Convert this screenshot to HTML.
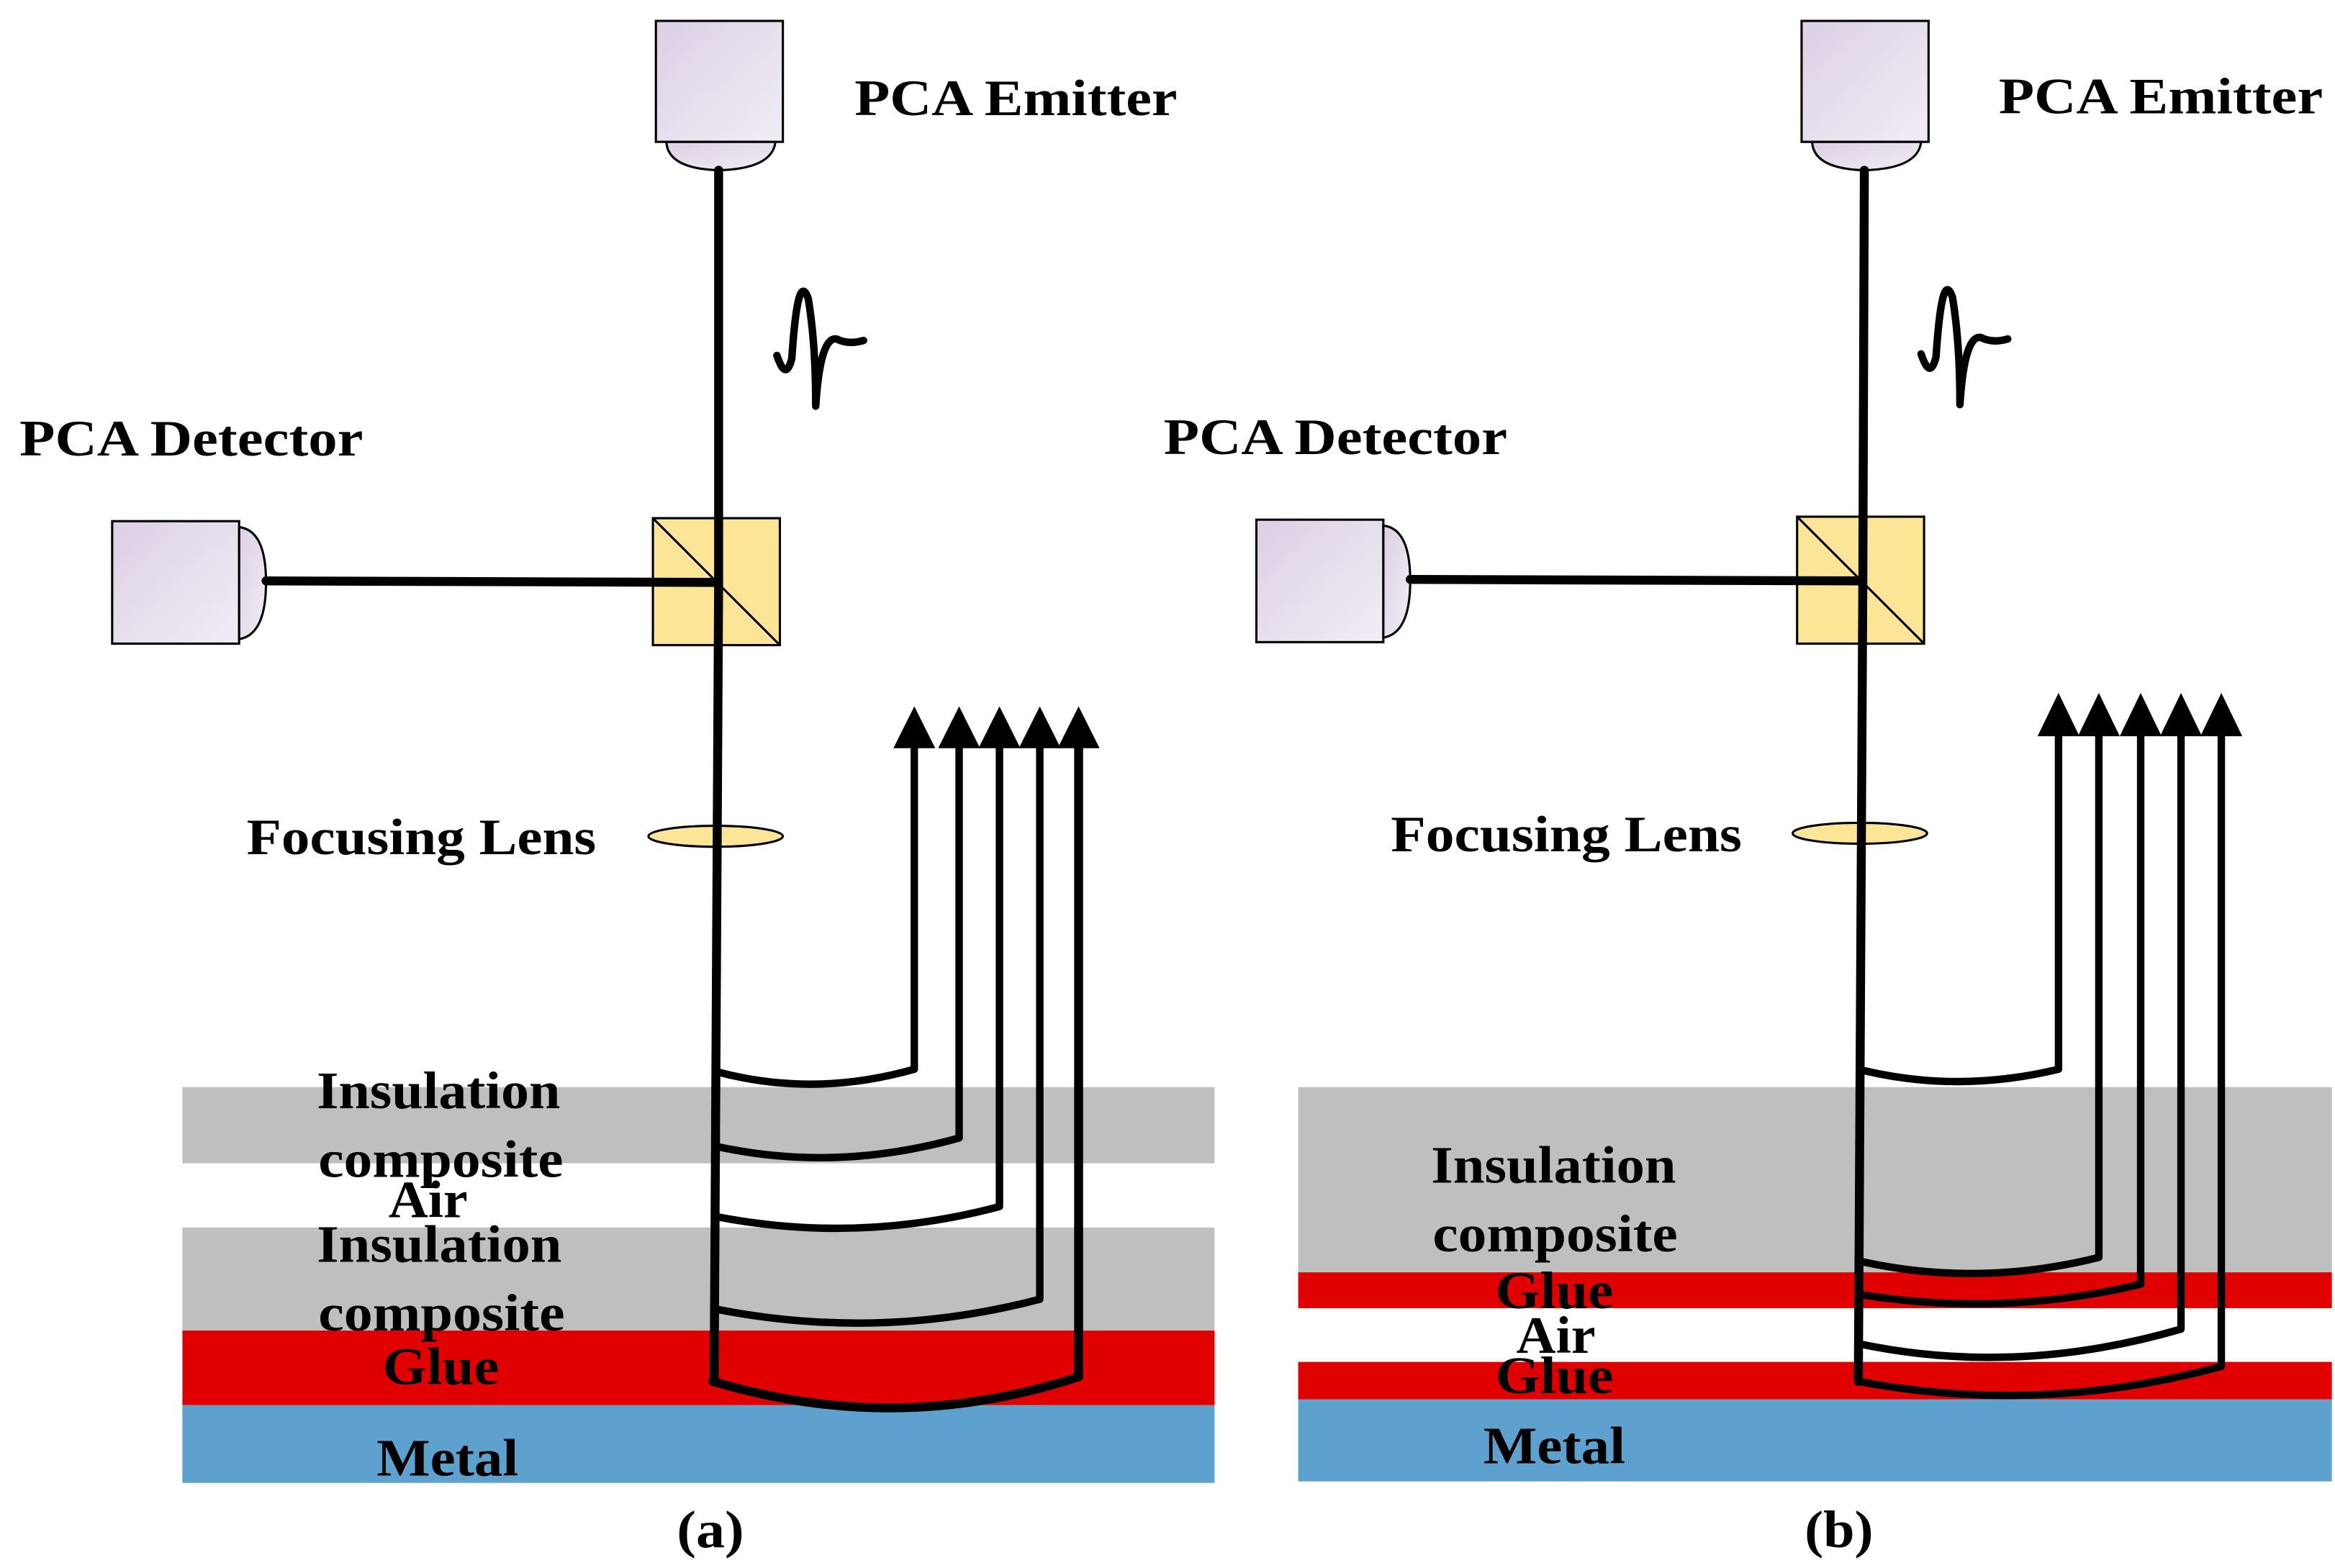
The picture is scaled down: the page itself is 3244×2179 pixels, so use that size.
<!DOCTYPE html>
<html><head><style>html,body{margin:0;padding:0;background:#fff}svg{display:block}</style></head>
<body>
<svg width="3244" height="2179" viewBox="0 0 1563 1050" xmlns="http://www.w3.org/2000/svg" font-family="Liberation Serif, serif" font-weight="bold">
<defs>
<linearGradient id="pg" x1="0" y1="0" x2="1" y2="1"><stop offset="0" stop-color="#dcd0e4"/><stop offset="1" stop-color="#f1edf5"/></linearGradient>
</defs>

<rect x="122" y="728" width="691" height="51" fill="#bfbfbf"/>
<rect x="122" y="822" width="691" height="69" fill="#bfbfbf"/>
<rect x="122" y="891" width="691" height="50" fill="#e00000"/>
<rect x="122" y="941" width="691" height="52" fill="#5ea1cf"/>

<rect x="869" y="728" width="692" height="124" fill="#bfbfbf"/>
<rect x="869" y="852" width="692" height="24" fill="#e00000"/>
<rect x="869" y="912" width="692" height="25" fill="#e00000"/>
<rect x="869" y="937" width="692" height="55" fill="#5ea1cf"/>

<g font-size="34" fill="#000">
<text x="572" y="77" textLength="216" lengthAdjust="spacingAndGlyphs">PCA Emitter</text>
<text x="1338" y="76" textLength="217" lengthAdjust="spacingAndGlyphs">PCA Emitter</text>
<text x="13" y="305" textLength="230" lengthAdjust="spacingAndGlyphs">PCA Detector</text>
<text x="779" y="304" textLength="230" lengthAdjust="spacingAndGlyphs">PCA Detector</text>
<text x="165" y="572" textLength="234" lengthAdjust="spacingAndGlyphs">Focusing Lens</text>
<text x="931" y="570" textLength="235" lengthAdjust="spacingAndGlyphs">Focusing Lens</text>
</g>
<g font-size="35" fill="#000">
<text x="212" y="742" textLength="163" lengthAdjust="spacingAndGlyphs">Insulation</text>
<text x="213" y="788" textLength="164" lengthAdjust="spacingAndGlyphs">composite</text>
<text x="260" y="815" textLength="53" lengthAdjust="spacingAndGlyphs">Air</text>
<text x="212" y="845" textLength="164" lengthAdjust="spacingAndGlyphs">Insulation</text>
<text x="213" y="891" textLength="165" lengthAdjust="spacingAndGlyphs">composite</text>
<text x="256" y="927" textLength="78" lengthAdjust="spacingAndGlyphs">Glue</text>
<text x="252" y="988" textLength="95" lengthAdjust="spacingAndGlyphs">Metal</text>
<text x="453" y="1036" textLength="45" lengthAdjust="spacingAndGlyphs">(a)</text>
<text x="958" y="792" textLength="164" lengthAdjust="spacingAndGlyphs">Insulation</text>
<text x="959" y="838" textLength="164" lengthAdjust="spacingAndGlyphs">composite</text>
<text x="1001" y="876" textLength="79" lengthAdjust="spacingAndGlyphs">Glue</text>
<text x="1015" y="906" textLength="53" lengthAdjust="spacingAndGlyphs">Air</text>
<text x="1001" y="933" textLength="79" lengthAdjust="spacingAndGlyphs">Glue</text>
<text x="993" y="980" textLength="95" lengthAdjust="spacingAndGlyphs">Metal</text>
<text x="1208" y="1036" textLength="46" lengthAdjust="spacingAndGlyphs">(b)</text>
</g>

<g stroke="#000" stroke-width="1.5">
<rect x="439" y="14" width="85" height="81" fill="url(#pg)"/>
<path d="M446 95 Q447 113 481 114 Q517 113 519 95 Z" fill="url(#pg)"/>
<rect x="75" y="349" width="85" height="82" fill="url(#pg)"/>
<path d="M160 353 Q178 355 178 390 Q178 425 160 428 Z" fill="url(#pg)"/>
<rect x="437" y="347" width="85" height="85" fill="#fde598"/>
<line x1="437" y1="347" x2="522" y2="432"/>
<ellipse cx="479" cy="560" rx="45" ry="7" fill="#fde598"/>
</g>
<g stroke="#000" stroke-width="1.5">
<rect x="1206" y="14" width="85" height="81" fill="url(#pg)"/>
<path d="M1213 95 Q1214 113 1248 114 Q1284 113 1286 95 Z" fill="url(#pg)"/>
<rect x="841" y="348" width="85" height="82" fill="url(#pg)"/>
<path d="M926 352 Q944 354 944 389 Q944 424 926 427 Z" fill="url(#pg)"/>
<rect x="1203" y="346" width="85" height="85" fill="#fde598"/>
<line x1="1203" y1="346" x2="1288" y2="431"/>
<ellipse cx="1245" cy="558" rx="45" ry="7" fill="#fde598"/>
</g>

<g stroke="#000" fill="none" stroke-linejoin="round" stroke-linecap="round">
<path d="M481 114 L481 390 L478 925" stroke-width="6"/>
<path d="M178 389 L481 390" stroke-width="6"/>
<path d="M520 238 Q526 256 530 240 Q534 180 541 200 Q546 230 546 272 Q549 225 560 227 Q568 231 578 228" stroke-width="5"/>
<path d="M481 718 Q545 735 612 716 L612 500" stroke-width="5"/>
<path d="M481 768 Q560 785 642 762 L642 500" stroke-width="5"/>
<path d="M481 815 Q575 833 669 808 L669 500" stroke-width="5"/>
<path d="M481 877 Q590 898 696 870 L696 500" stroke-width="5"/>
<path d="M477 925 Q600 962 722 922 L722 500" stroke-width="6"/>
</g>
<g fill="#000">
<polygon points="598,501 612,473 626,501"/>
<polygon points="628,501 642,473 656,501"/>
<polygon points="655,501 669,473 683,501"/>
<polygon points="682,501 696,473 710,501"/>
<polygon points="708,501 722,473 736,501"/>
</g>

<g stroke="#000" fill="none" stroke-linejoin="round" stroke-linecap="round">
<path d="M1248 114 L1247 389 L1244 925" stroke-width="6"/>
<path d="M944 388 L1247 389" stroke-width="6"/>
<path d="M1286 237 Q1292 255 1296 239 Q1300 179 1307 199 Q1312 229 1312 271 Q1315 224 1326 226 Q1334 230 1344 227" stroke-width="5"/>
<path d="M1248 717 Q1312 732 1378 716 L1378 492" stroke-width="5"/>
<path d="M1247 845 Q1325 862 1405 842 L1405 492" stroke-width="5"/>
<path d="M1246 867 Q1340 882 1433 860 L1433 492" stroke-width="5"/>
<path d="M1245 900 Q1350 922 1460 890 L1460 492" stroke-width="5"/>
<path d="M1244 925 Q1365 948 1487 915 L1487 492" stroke-width="5"/>
</g>
<g fill="#000">
<polygon points="1364,493 1378,464 1392,493"/>
<polygon points="1391,493 1405,464 1419,493"/>
<polygon points="1419,493 1433,464 1447,493"/>
<polygon points="1446,493 1460,464 1474,493"/>
<polygon points="1473,493 1487,464 1501,493"/>
</g>
</svg>
</body></html>
